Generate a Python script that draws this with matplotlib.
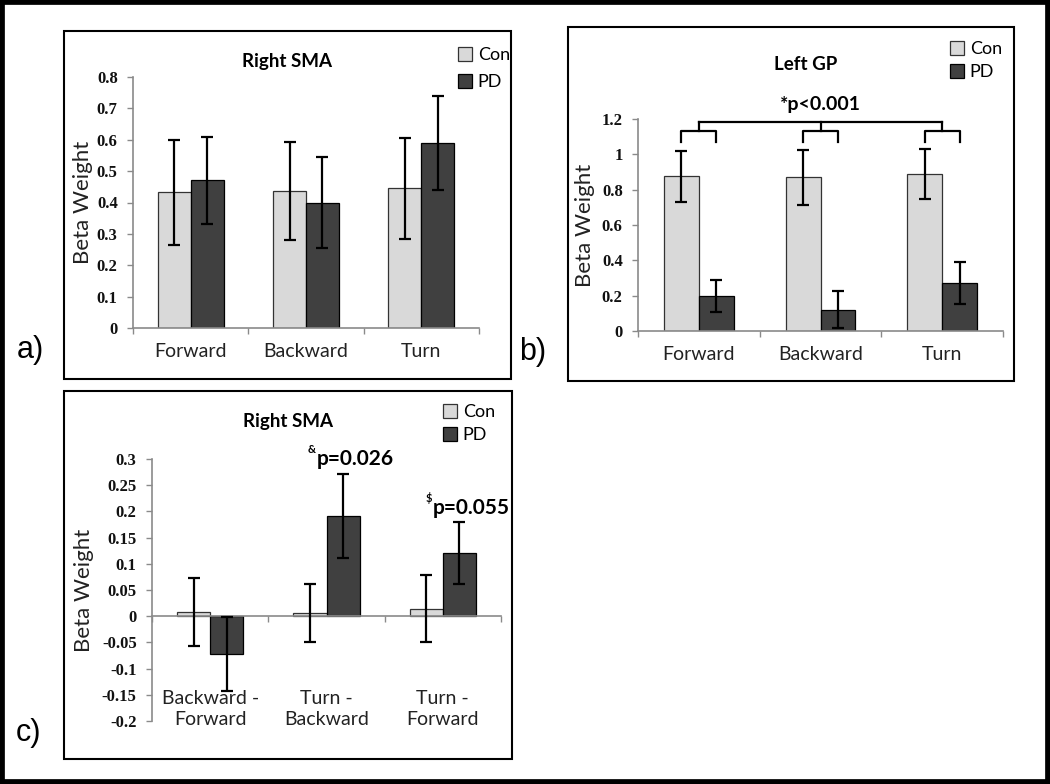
import matplotlib.pyplot as plt
from matplotlib.patches import Rectangle, Patch
from matplotlib.transforms import blended_transform_factory
import numpy as np

plt.rcParams['font.family'] = ['Lato', 'DejaVu Sans']

groups = ['Con', 'PD']

# a) Right SMA
cats_a = ['Forward', 'Backward', 'Turn']
con_a = [0.432, 0.438, 0.445]
con_a_err = [0.166, 0.156, 0.162]
pd_a = [0.471, 0.399, 0.590]
pd_a_err = [0.138, 0.145, 0.150]

# b) Left GP
cats_b = ['Forward', 'Backward', 'Turn']
con_b = [0.875, 0.870, 0.888]
con_b_err = [0.146, 0.155, 0.140]
pd_b = [0.200, 0.120, 0.270]
pd_b_err = [0.090, 0.105, 0.118]

# c) Right SMA, differences
cats_c = ['Backward -\nForward', 'Turn -\nBackward', 'Turn -\nForward']
con_c = [0.008, 0.006, 0.014]
con_c_err = [0.064, 0.055, 0.064]
pd_c = [-0.072, 0.192, 0.120]
pd_c_err = [0.071, 0.080, 0.059]
notes_c = {1: ('&', 'p=0.026'), 2: ('$', 'p=0.055')}

W, H = 1050, 784
fig = plt.figure(figsize=(10.5, 7.84), dpi=100)


def fx(x):
    return x / W


def fy(y):
    return 1 - y / H


def add_axes(left, top, right, bottom):
    return fig.add_axes([fx(left), fy(bottom), fx(right - left), (bottom - top) / H])


def box(left, top, right, bottom, lw=1.5):
    fig.patches.append(Rectangle((fx(left), fy(bottom)), fx(right - left), (bottom - top) / H,
                                 transform=fig.transFigure, fill=False, ec='black', lw=lw))


axis_grey = '#8a8a8a'
con_col = '#d9d9d9'
pd_col = '#404040'
w = 0.285


def panel(ax, cats, con, con_err, pd, pd_err, yticks, ylim, labels_bottom=False):
    x = np.arange(len(cats))
    ax.bar(x - w / 2, con, w, color=con_col, edgecolor='#333333', lw=0.9, zorder=2)
    ax.bar(x + w / 2, pd, w, color=pd_col, edgecolor='black', lw=0.9, zorder=2)
    ax.errorbar(x - w / 2, con, yerr=con_err, fmt='none', ecolor='black',
                elinewidth=1.6, capsize=4, capthick=1.6, zorder=3)
    ax.errorbar(x + w / 2, pd, yerr=pd_err, fmt='none', ecolor='black',
                elinewidth=1.6, capsize=4, capthick=1.6, zorder=3)
    ax.set_xlim(-0.5, len(cats) - 0.5)
    ax.set_ylim(*ylim)
    ax.set_yticks(yticks)
    ax.set_yticklabels([f'{round(v, 2) + 0.0:g}' for v in yticks],
                       fontfamily='Liberation Serif', fontsize=12, fontweight='bold')
    ax.set_xticks(np.arange(len(cats) + 1) - 0.5)
    ax.set_xticklabels([])
    ax.tick_params(axis='both', colors=axis_grey, direction='out', length=4, width=1)
    ax.tick_params(axis='y', labelcolor='#111111', pad=7)
    for s in ['top', 'right']:
        ax.spines[s].set_visible(False)
    for s in ['left', 'bottom']:
        ax.spines[s].set_color(axis_grey)
        ax.spines[s].set_linewidth(1.2)
    if labels_bottom:
        ax.spines['bottom'].set_position(('data', 0))
        tr = blended_transform_factory(ax.transData, ax.transAxes)
        for i, c in enumerate(cats):
            ax.text(i, 0.045, c, transform=tr, ha='center', va='center',
                    fontsize=14, linespacing=1.3, color='#222222')
    else:
        ax.set_xticks(x, minor=True)
        ax.set_xticklabels(cats, minor=True, fontsize=14, color='#222222')
        ax.tick_params(axis='x', which='minor', length=0, pad=11)
    ax.set_ylabel('Beta Weight', fontsize=16, color='#222222')
    ax.patch.set_visible(False)


def legend(ax, left, mid, spacing):
    handles = [Patch(facecolor=con_col, edgecolor='#333333', lw=0.9),
               Patch(facecolor=pd_col, edgecolor='black', lw=0.9)]
    ax.legend(handles, groups, loc='center left', bbox_to_anchor=(fx(left), fy(mid)),
              bbox_transform=fig.transFigure, frameon=False, fontsize=13,
              handlelength=0.8, handleheight=0.8, handletextpad=0.3,
              labelspacing=spacing, borderpad=0, borderaxespad=0)


# outer frame and panel boxes
fig.patches.append(Rectangle((0, 0), 1, 1, transform=fig.transFigure, fill=False,
                             ec='black', lw=7))
box(64, 31, 511, 379)
box(568, 27, 1014, 381)
box(64, 391, 512, 759)

# panel a
ax_a = add_axes(133, 77, 479, 328)
panel(ax_a, cats_a, con_a, con_a_err, pd_a, pd_a_err, np.arange(0, 0.81, 0.1), (0, 0.8))
ax_a.yaxis.set_label_coords(-0.115, 0.5)
legend(ax_a, 458, 68.5, 0.6)
fig.text(fx(287), fy(62), 'Right SMA', ha='center', va='center', fontsize=13.5, fontweight='bold')

# panel b
ax_b = add_axes(638, 119, 1003, 331)
panel(ax_b, cats_b, con_b, con_b_err, pd_b, pd_b_err, np.arange(0, 1.21, 0.2), (0, 1.2))
ax_b.yaxis.set_label_coords(-0.117, 0.5)
legend(ax_b, 950, 60.5, 0.4)
fig.text(fx(806), fy(65), 'Left GP', ha='center', va='center', fontsize=13.5, fontweight='bold')
lo, mid_y, hi = 1.07, 1.132, 1.183
for i in range(len(cats_b)):
    ax_b.plot([i - w / 2, i - w / 2, i + w / 2, i + w / 2], [lo, mid_y, mid_y, lo],
              color='black', lw=1.6, clip_on=False)
    ax_b.plot([i, i], [mid_y, hi], color='black', lw=1.6, clip_on=False)
ax_b.plot([0, len(cats_b) - 1], [hi, hi], color='black', lw=1.6, clip_on=False)
ax_b.text(1, 1.28, '*p<0.001', ha='center', va='center', fontsize=14, fontweight='bold')

# panel c
ax_c = add_axes(152, 459, 501, 721)
panel(ax_c, cats_c, con_c, con_c_err, pd_c, pd_c_err,
      np.arange(-0.2, 0.301, 0.05), (-0.2, 0.3), labels_bottom=True)
ax_c.yaxis.set_label_coords(-0.165, 0.5)
legend(ax_c, 443, 423.5, 0.4)
fig.text(fx(288), fy(422), 'Right SMA', ha='center', va='center', fontsize=13.5, fontweight='bold')
for i, (sup, note) in notes_c.items():
    xy = (i + w / 2, pd_c[i] + pd_c_err[i])
    ax_c.annotate(note, xy, xytext=(-19, 6), textcoords='offset points',
                  ha='left', va='baseline', fontsize=15, fontweight='bold')
    ax_c.annotate(sup, xy, xytext=(-19.5, 15), textcoords='offset points',
                  ha='right', va='baseline', fontsize=8, fontweight='bold')

# panel letters
fig.text(fx(17), fy(350), 'a)', ha='left', va='center', fontsize=22, fontfamily='Liberation Sans')
fig.text(fx(519), fy(352), 'b)', ha='left', va='center', fontsize=22, fontfamily='Liberation Sans')
fig.text(fx(16), fy(733), 'c)', ha='left', va='center', fontsize=22, fontfamily='Liberation Sans')

fig.savefig('out.png', dpi=100)
